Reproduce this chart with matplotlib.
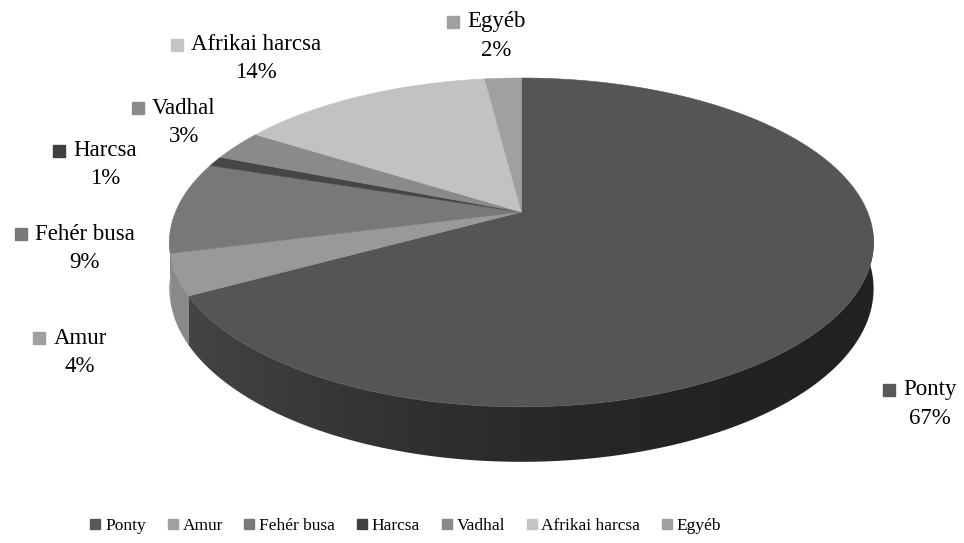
import numpy as np
import matplotlib
matplotlib.use('Agg')
import matplotlib.pyplot as plt
from matplotlib.patches import Polygon
from matplotlib.lines import Line2D

# data
categories = ['Ponty', 'Amur', 'Fehér busa', 'Harcsa', 'Vadhal', 'Afrikai harcsa', 'Egyéb']
shares = [67, 4, 9, 1, 3, 14, 2]
top_colors = ['#555555', '#999999', '#787878', '#464646', '#8a8a8a', '#c2c2c2', '#a0a0a0']
legend_colors = ['#595959', '#a0a0a0', '#7a7a7a', '#404040', '#8a8a8a', '#c4c4c4', '#a0a0a0']

# label layout (pixel centres of name line)
label_x = [930, 80, 85, 105, 184, 256, 496]
label_y = [390, 338, 234, 151, 108, 45, 22]

W, H = 964, 543
fig = plt.figure(figsize=(W / 100, H / 100), dpi=100)
ax = fig.add_axes([0, 0, 1, 1])
ax.set_xlim(0, W)
ax.set_ylim(H, 0)
ax.axis('off')

# perspective pie geometry
cx, cy = 521.5, 212
sx, sy, k, depth = 346, 158.8, 0.185, 44.8


def proj(theta, z=0.0):
    u = np.sin(theta)
    v = np.cos(theta)
    d = 1 + k * v
    return cx + sx * u / d, cy + (-sy * v + depth * z) / d


def side_gray(col, u):
    g = int(col[1:3], 16)
    delta = 43 + 18 * u - 10 * u ** 2
    return np.clip(g - delta, 0, 255) / 255.0


total = float(sum(shares))
bounds = np.concatenate([[0], np.cumsum(shares)]) / total * 2 * np.pi

# side walls (front part only), shaded left->right
lo, hi = np.arccos(0.35), 2 * np.pi - np.arccos(0.35)
gx = np.linspace(150, 900, 400)
gu = np.clip((gx - cx) / sx, -1, 1)
walls = []
for i in range(len(shares)):
    a0, a1 = max(bounds[i], lo), min(bounds[i + 1], hi)
    if a1 <= a0:
        continue
    th = np.linspace(a0, a1, max(3, int((a1 - a0) / 0.005)))
    tx, ty = proj(th)
    bx, by = proj(th[::-1], 1)
    pts = list(zip(tx, ty)) + list(zip(bx, by))
    walls.append((np.cos((a0 + a1) / 2), i, pts))
walls.sort(key=lambda w: -w[0])
for vm, i, pts in walls:
    poly = Polygon(pts, closed=True, facecolor='none', edgecolor='none')
    ax.add_patch(poly)
    g = side_gray(top_colors[i], gu)
    img = np.dstack([g, g, g]).repeat(2, axis=0)
    im = ax.imshow(img, extent=[gx[0], gx[-1], 480, 230], aspect='auto',
                   interpolation='bilinear', zorder=1)
    im.set_clip_path(poly)

# top faces
for i in range(len(shares)):
    a0, a1 = bounds[i], bounds[i + 1]
    th = np.linspace(a0, a1, max(3, int((a1 - a0) / 0.005)))
    xs, ys = proj(th)
    pts = [(cx, cy)] + list(zip(xs, ys))
    ax.add_patch(Polygon(pts, closed=True, facecolor=top_colors[i],
                         edgecolor=top_colors[i], lw=0.4, zorder=2))
ax.set_xlim(0, W)
ax.set_ylim(H, 0)

# data labels
fnt = ['Liberation Serif', 'DejaVu Serif']
fig.canvas.draw()
rend = fig.canvas.get_renderer()
for i, name in enumerate(categories):
    t = ax.text(label_x[i], label_y[i], name, ha='center', va='center',
                fontsize=16.5, family=fnt, color='black', zorder=3)
    ax.text(label_x[i], label_y[i] + 28, '%d%%' % shares[i], ha='center',
            va='center', fontsize=16.5, family=fnt, color='black', zorder=3)
    bb = t.get_window_extent(renderer=rend)
    x_left = ax.transData.inverted().transform((bb.x0, 0))[0]
    ax.plot([x_left - 14], [label_y[i]], marker='s', markersize=8,
            color=legend_colors[i], linestyle='none', zorder=3)

# legend
handles = [Line2D([], [], marker='s', linestyle='none', markersize=7.5,
                  color=c) for c in legend_colors]
fig.legend(handles, categories, loc='center', ncol=7,
           bbox_to_anchor=(406 / W, 1 - 526 / H), frameon=False,
           prop={'family': fnt, 'size': 12.5}, handlelength=0.55,
           handletextpad=0.3, columnspacing=1.25, borderpad=0)

fig.savefig('out.png', dpi=100)
